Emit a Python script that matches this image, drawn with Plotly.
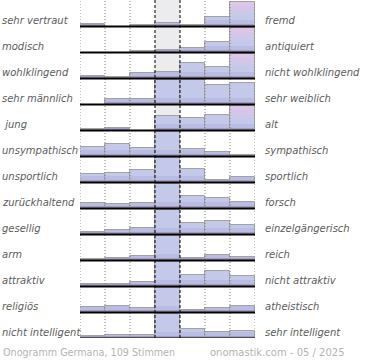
import plotly.graph_objects as go

left_labels = ["sehr vertraut", "modisch", "wohlklingend", "sehr männlich", "\u00a0jung",
               "unsympathisch", "unsportlich", "zurückhaltend", "gesellig", "arm",
               "attraktiv", "religiös", "nicht intelligent"]
right_labels = ["fremd", "antiquiert", "nicht wohlklingend", "sehr weiblich", "alt",
                "sympathisch", "sportlich", "forsch", "einzelgängerisch", "reich",
                "nicht attraktiv", "atheistisch", "sehr intelligent"]
# percent of votes per scale position (1..7), per row
row_vertraut = [2, 0, 1, 3, 1, 9, 84]
row_modisch = [0, 0, 1, 2, 4, 10, 83]
row_wohlklingend = [2, 1.5, 5, 6, 15, 11, 59.5]
row_maennlich = [0, 5, 5, 25, 25, 19, 21]
row_jung = [1, 2, 0, 14, 12, 15, 56]
row_unsympathisch = [9, 12, 8, 59, 7, 4, 1]
row_unsportlich = [8, 9, 12, 51, 13, 2, 5]
row_zurueckhaltend = [5, 4, 5, 58, 12, 10, 6]
row_gesellig = [2, 4, 6, 55, 11, 13, 9]
row_arm = [1, 2, 4, 83, 2, 5, 3]
row_attraktiv = [2, 2, 4, 56, 11, 15, 10]
row_religioes = [5, 6, 4, 73, 2, 4, 6]
row_intelligent = [2, 3, 3, 70, 9, 6, 7]
rows = [row_vertraut, row_modisch, row_wohlklingend, row_maennlich, row_jung,
        row_unsympathisch, row_unsportlich, row_zurueckhaltend, row_gesellig,
        row_arm, row_attraktiv, row_religioes, row_intelligent]
footer_left = "Onogramm Germana, 109 Stimmen"
footer_right = "onomastik.com - 05 / 2025"

NROW = len(rows)
ROW = 26.0
CAP = 24.5
NCOL = 7


def baseline(r):
    return (NROW - 1 - r) * ROW


fig = go.Figure()

# layered fills to imitate gradient
plain_layers = [(0, 2.5, "#a498cf"), (2.5, 6, "#babde3"), (6, CAP, "#c5c9e9")]
pink_layers = [(0, 2.5, "#a498cf"), (2.5, 6, "#babde3"), (6, 12, "#c5c9e9"),
               (12, 16, "#cdc7e8"), (16, 20, "#d5c6e8"), (20, CAP, "#ddc6e7")]


def add_layers(layers, selector):
    for lo, hi, col in layers:
        xs, bs, hs = [], [], []
        for r, vals in enumerate(rows):
            for c, v in enumerate(vals):
                if not selector(c, v):
                    continue
                h = min(v, CAP)
                seg = min(h, hi) - lo
                if seg > 0:
                    xs.append(c)
                    bs.append(baseline(r) + lo)
                    hs.append(seg)
        if xs:
            fig.add_trace(go.Bar(x=xs, y=hs, base=bs, width=1, marker_color=col,
                                 marker_line_width=0, hoverinfo="skip", showlegend=False))


is_pink = lambda c, v: c != 3 and v > 40
add_layers(plain_layers, lambda c, v: not is_pink(c, v))
add_layers(pink_layers, is_pink)

# outline
xs, bs, hs = [], [], []
for r, vals in enumerate(rows):
    for c, v in enumerate(vals):
        if v > 0:
            xs.append(c)
            bs.append(baseline(r))
            hs.append(min(v, CAP))
fig.add_trace(go.Bar(x=xs, y=hs, base=bs, width=1, marker_color="rgba(0,0,0,0)",
                     marker_line=dict(color="#a2a2a2", width=1),
                     hoverinfo="skip", showlegend=False))

shapes = []
# center column background
shapes.append(dict(type="rect", xref="x", yref="y", x0=2.5, x1=3.5, y0=0, y1=NROW * ROW,
                   fillcolor="#ececee", line_width=0, layer="below"))
# vertical dotted lines
for xb in [-0.5, 0.5, 1.5, 4.5, 5.5, 6.5]:
    shapes.append(dict(type="line", xref="x", yref="y", x0=xb, x1=xb, y0=0, y1=NROW * ROW,
                       line=dict(color="#808080", width=1, dash="1px,2px"), layer="above"))
for xb in [2.5, 3.5]:
    shapes.append(dict(type="line", xref="x", yref="y", x0=xb, x1=xb, y0=0, y1=NROW * ROW,
                       line=dict(color="#000000", width=1, dash="3px,2px"), layer="above"))
# baselines
for r in range(NROW):
    shapes.append(dict(type="line", xref="x", yref="y", x0=-0.5, x1=6.5,
                       y0=baseline(r) - 0.5, y1=baseline(r) - 0.5,
                       line=dict(color="#000000", width=2), layer="above"))

annotations = []
lab_font = dict(family="DejaVu Sans", size=10, color="#5c5c5c", style="italic")
for r in range(NROW):
    yc = baseline(r) + 6
    annotations.append(dict(text=left_labels[r], xref="paper", yref="y", x=-80 / 175, y=yc,
                            xanchor="left", yanchor="middle", showarrow=False, font=lab_font))
    annotations.append(dict(text=right_labels[r], xref="paper", yref="y", x=(263 - 80) / 175,
                            y=yc, xanchor="left", yanchor="middle", showarrow=False, font=lab_font))
annotations.append(dict(text=footer_left, xref="paper", yref="paper", x=-79 / 175, y=-14 / 338,
                        xanchor="left", yanchor="middle", showarrow=False,
                        font=dict(family="DejaVu Sans", size=9.6, color="#b4b4b4")))
annotations.append(dict(text=footer_right, xref="paper", yref="paper", x=(347 - 80) / 175,
                        y=-14 / 338, xanchor="right", yanchor="middle", showarrow=False,
                        font=dict(family="DejaVu Sans", size=10, color="#b4b4b4")))

fig.update_layout(
    width=370, height=360,
    margin=dict(l=80, r=115, t=0, b=22, pad=0),
    paper_bgcolor="white", plot_bgcolor="white",
    barmode="overlay", bargap=0,
    shapes=shapes, annotations=annotations,
    xaxis=dict(range=[-0.5, 6.5], visible=False, fixedrange=True),
    yaxis=dict(range=[0, NROW * ROW], visible=False, fixedrange=True),
    showlegend=False,
)
fig.write_html("out.html", config={"displayModeBar": False},
               post_script="document.body.style.margin='0';document.body.style.overflow='hidden';")
